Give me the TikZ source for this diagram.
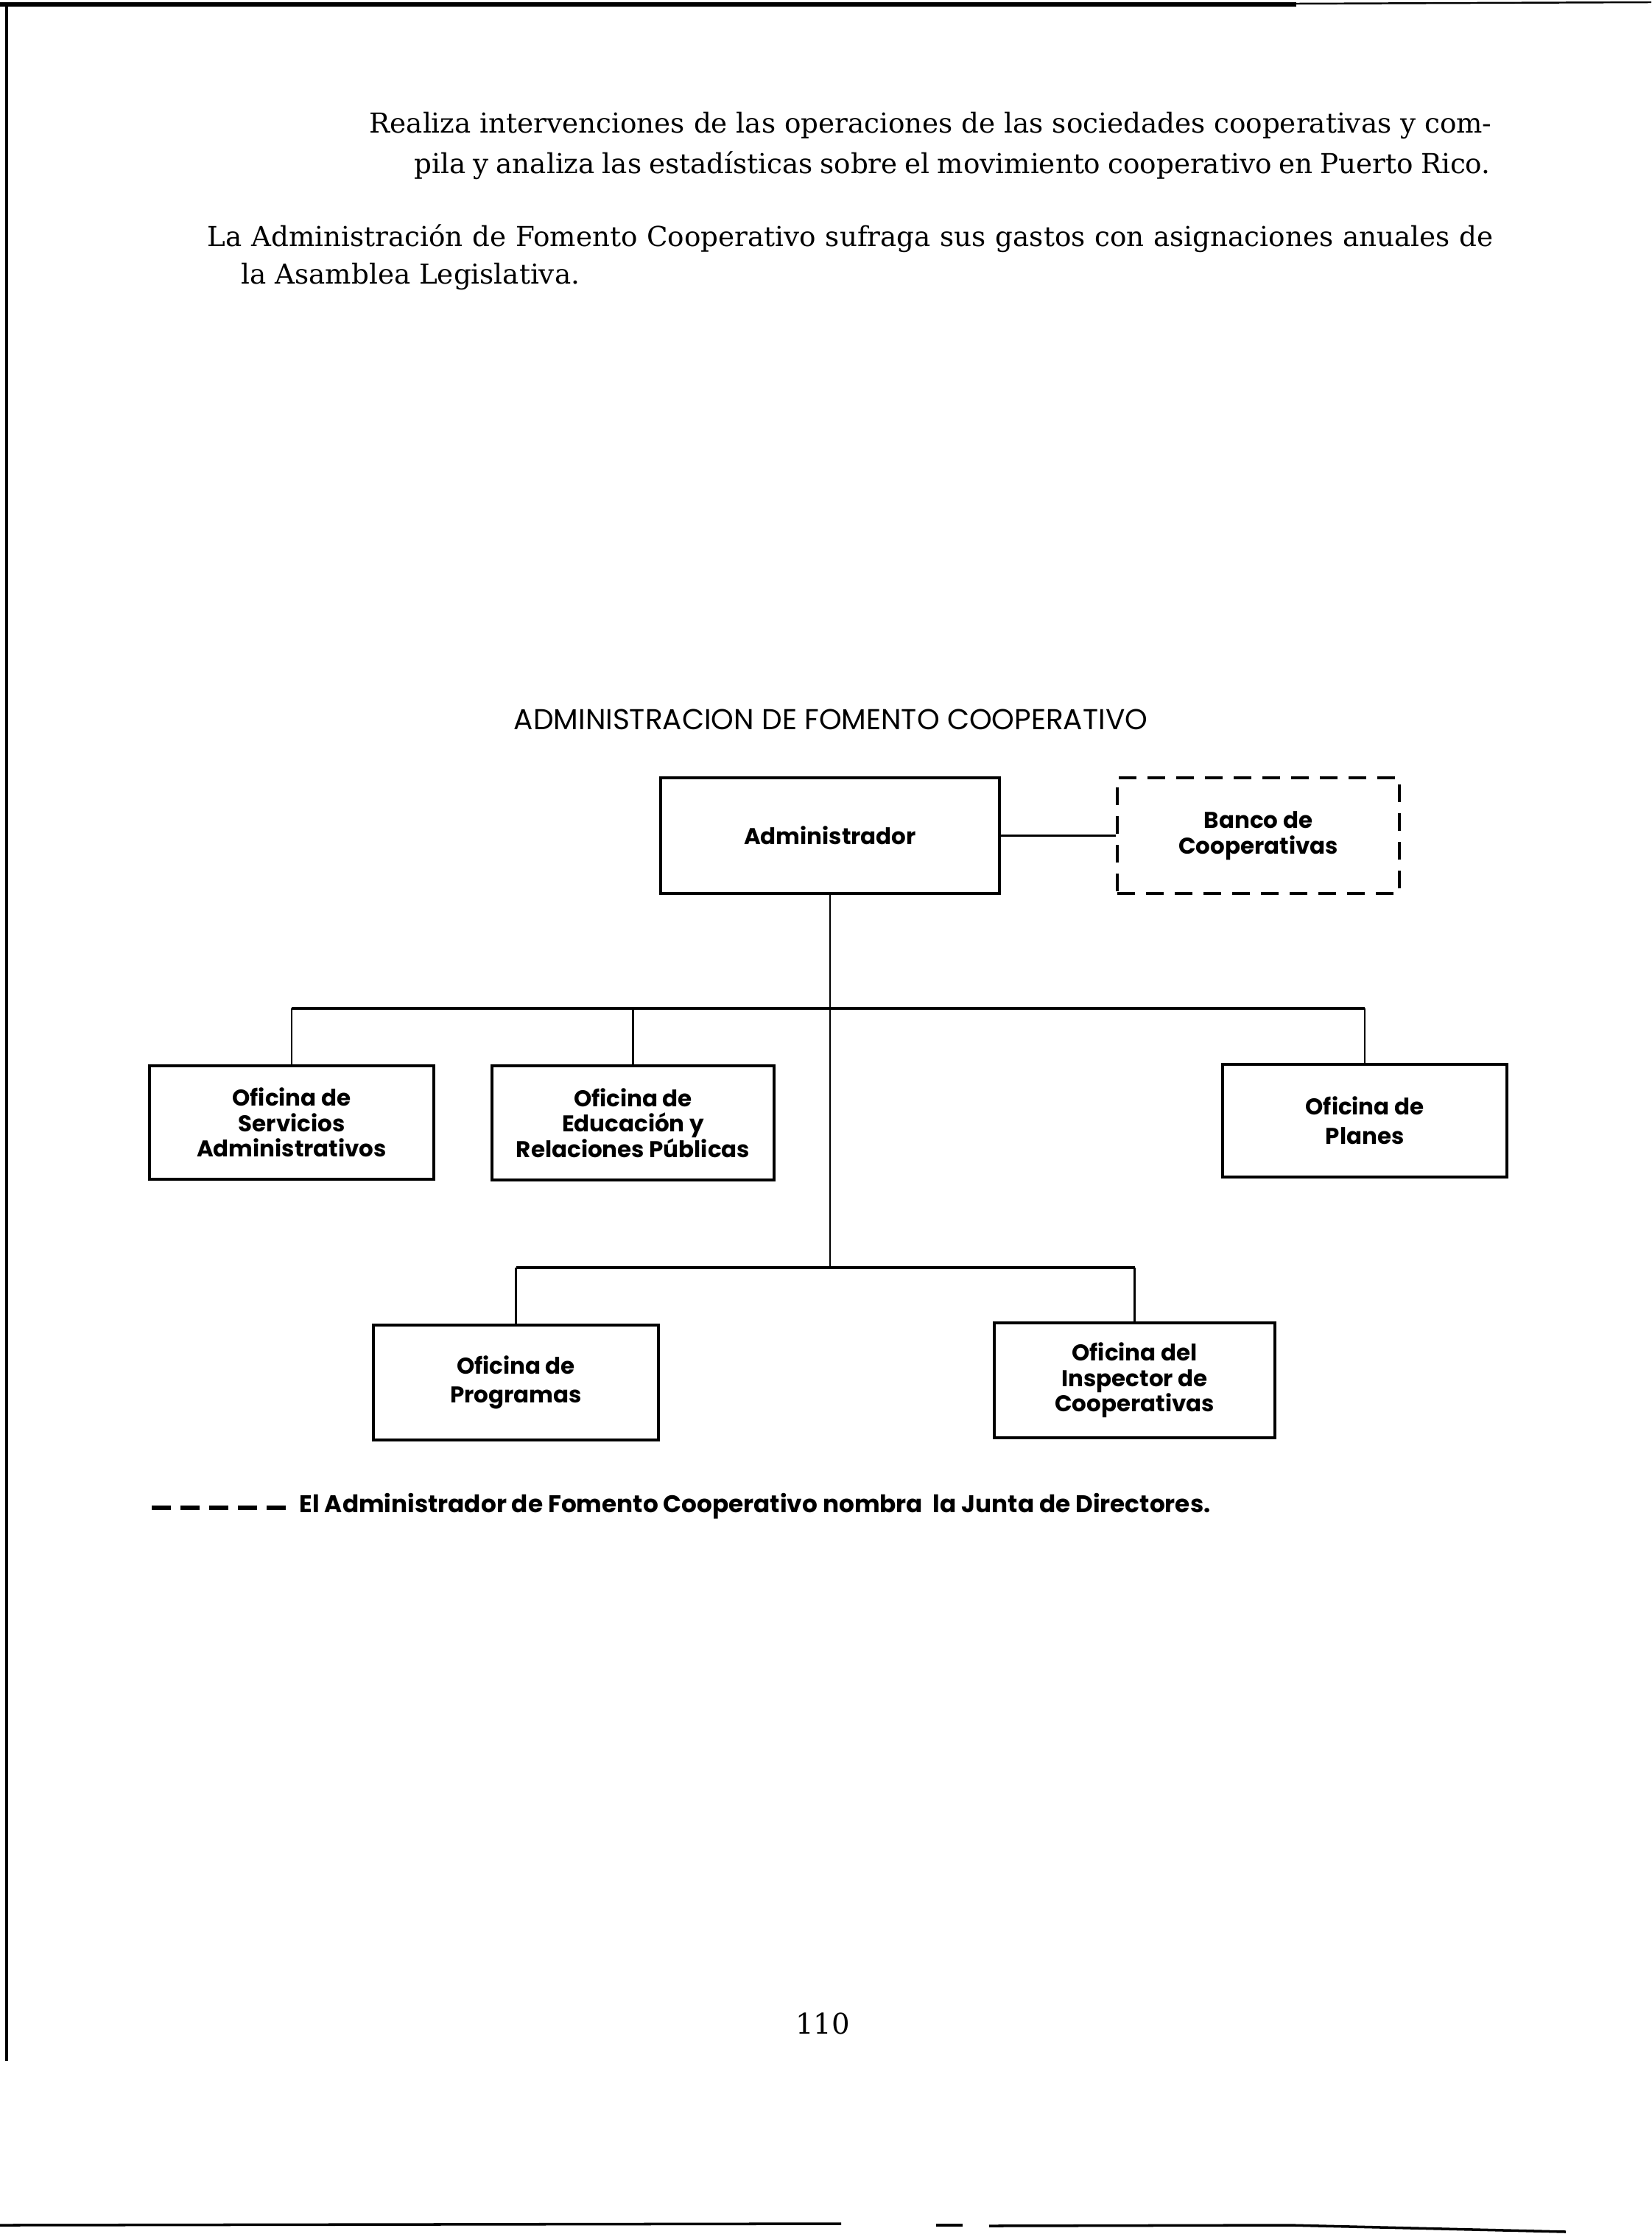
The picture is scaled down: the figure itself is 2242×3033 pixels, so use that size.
\documentclass[tikz,border=0pt]{standalone}
\usepackage{fontspec}
\setmainfont{DejaVu Serif}
\newfontfamily\chartfont{Poppins}
\begin{document}
\begin{tikzpicture}[x=0.01cm,y=-0.01cm,
  bodytext/.style={anchor=base west,inner sep=0pt,font=\fontsize{10.6}{13}\selectfont},
  office/.style={draw,line width=1pt,inner sep=0pt,align=center,
    font=\chartfont\bfseries\fontsize{8.8}{9.8}\selectfont},
  dashbox/.style={office,dash pattern=on 0.24cm off 0.15cm},
  thinlink/.style={line width=0.6pt},
  barlink/.style={line width=1.15pt},
  border/.style={line width=1.3pt}]
\useasboundingbox (0,0) rectangle (2242,3033);
\fill[white] (0,0) rectangle (2242,3033);
% page edges
\draw[line width=1.7pt] (0,6) -- (1760,6);
\draw[line width=0.7pt] (1760,5) -- (2242,3);
\draw[border] (9,8) -- (9,2798);
\draw[line width=1pt] (0,3021) -- (1142,3019);
\draw[line width=1pt] (1271,3021) -- (1307,3021);
\draw[line width=1pt] (1343,3022) -- (1750,3021) -- (2126,3030);
% body text
\node[bodytext] (l1) at (501,180) {\makebox[15.23cm][s]{Realiza intervenciones de las operaciones de las sociedades cooperativas y com-}};
\node[bodytext] (l2) at (562,235) {\makebox[14.6cm][s]{pila y analiza las estadísticas sobre el movimiento cooperativo en Puerto Rico.}};
\node[bodytext] (l3) at (281,334) {\makebox[17.45cm][s]{La Administración de Fomento Cooperativo sufraga sus gastos con asignaciones anuales de}};
\node[bodytext] (l4) at (327,385) {la Asamblea Legislativa.};
% title
\node[anchor=base,inner sep=0pt,font=\chartfont\fontsize{11.1}{13}\selectfont] (title) at (1128,990) {ADMINISTRACION DE FOMENTO COOPERATIVO};
% boxes
\node[office,minimum width=4.6cm,minimum height=1.57cm] (admin) at (1127,1134.5) {Administrador};
\node[dashbox,minimum width=3.83cm,minimum height=1.57cm] (banco) at (1708.5,1134.5) {Banco de\\Cooperativas};
\node[office,minimum width=3.86cm,minimum height=1.54cm] (serv) at (396,1524) {Oficina de\\Servicios\\Administrativos};
\node[office,minimum width=3.83cm,minimum height=1.55cm] (edu) at (859.5,1524.5) {Oficina de\\Educación y\\Relaciones Públicas};
\node[office,minimum width=3.86cm,minimum height=1.53cm,font=\chartfont\bfseries\fontsize{8.8}{11.3}\selectfont] (plan) at (1853,1521.5) {Oficina de\\Planes};
\node[office,minimum width=3.87cm,minimum height=1.56cm,font=\chartfont\bfseries\fontsize{8.8}{11}\selectfont] (prog) at (700.5,1877) {Oficina de\\Programas};
\node[office,minimum width=3.81cm,minimum height=1.56cm] (insp) at (1540.5,1874) {Oficina del\\Inspector de\\Cooperativas};
% junctions
\coordinate (j1) at (1127,1369);
\coordinate (j2) at (1127,1721);
% connectors
\draw[line width=0.9pt] (admin.east) -- (banco.west);
\draw[thinlink] (admin.south) -- (j2);
\draw[barlink] (serv.north |- j1) -- (plan.north |- j1);
\draw[thinlink] (serv.north) -- (serv.north |- j1);
\draw[thinlink] (edu.north) -- (edu.north |- j1);
\draw[thinlink] (plan.north) -- (plan.north |- j1);
\draw[barlink] (prog.north |- j2) -- (insp.north |- j2);
\draw[thinlink] (prog.north) -- (prog.north |- j2);
\draw[thinlink] (insp.north) -- (insp.north |- j2);
% legend
\coordinate (d1) at (206,2047);
\coordinate (d2) at (390,2047);
\draw[line width=1.5pt,dash pattern=on 0.26cm off 0.13cm] (d1) -- (d2);
\node[anchor=base west,inner sep=0pt,font=\chartfont\bfseries\fontsize{9.3}{11}\selectfont] (legend) at (406,2053) {El Administrador de Fomento Cooperativo nombra\ \ la Junta de Directores.};
% page number
\node[anchor=base,inner sep=0pt,font=\fontsize{11}{13}\selectfont] (page) at (1117,2761) {110};
\end{tikzpicture}
\end{document}
